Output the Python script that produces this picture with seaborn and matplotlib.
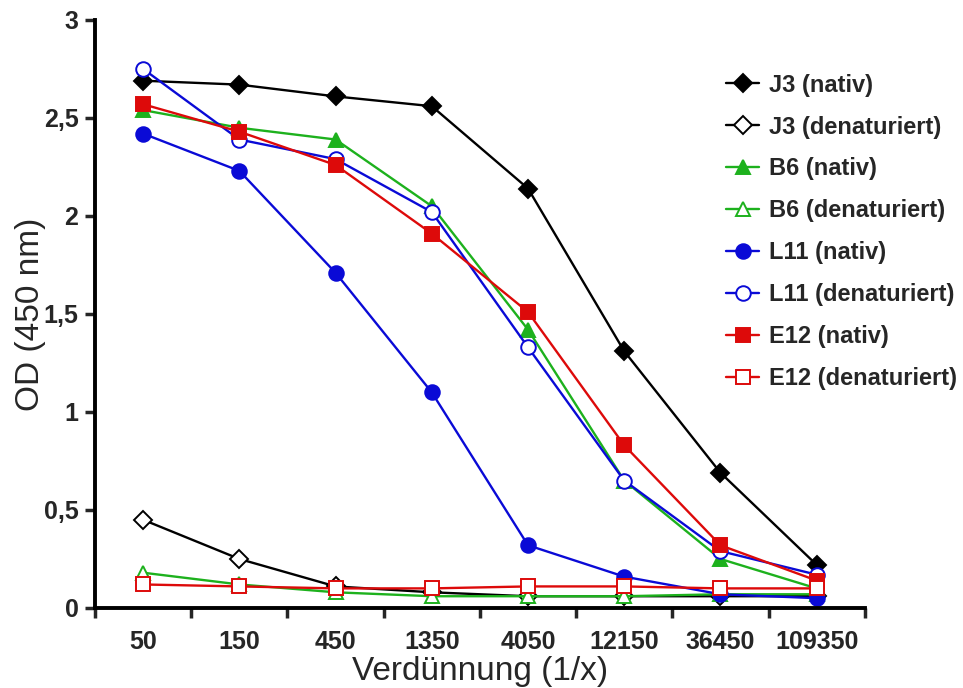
import matplotlib
matplotlib.use("Agg")
import matplotlib.pyplot as plt
import seaborn as sns
import pandas as pd

dilutions = ["50", "150", "450", "1350", "4050", "12150", "36450", "109350"]

j3_nativ = [2.69, 2.67, 2.61, 2.56, 2.14, 1.31, 0.69, 0.22]
j3_denat = [0.45, 0.25, 0.11, 0.08, 0.06, 0.06, 0.06, 0.06]
b6_nativ = [2.54, 2.45, 2.39, 2.05, 1.42, 0.65, 0.25, 0.10]
b6_denat = [0.18, 0.12, 0.08, 0.06, 0.06, 0.06, 0.07, 0.07]
l11_nativ = [2.42, 2.23, 1.71, 1.10, 0.32, 0.16, 0.07, 0.05]
l11_denat = [2.75, 2.39, 2.29, 2.02, 1.33, 0.65, 0.29, 0.17]
e12_nativ = [2.57, 2.43, 2.26, 1.91, 1.51, 0.83, 0.32, 0.14]
e12_denat = [0.12, 0.11, 0.10, 0.10, 0.11, 0.11, 0.10, 0.10]

series = [
    ("J3 (nativ)", j3_nativ, "black", "D", True),
    ("J3 (denaturiert)", j3_denat, "black", "D", False),
    ("B6 (nativ)", b6_nativ, "#1db11d", "^", True),
    ("B6 (denaturiert)", b6_denat, "#1db11d", "^", False),
    ("L11 (nativ)", l11_nativ, "#0a0ad6", "o", True),
    ("L11 (denaturiert)", l11_denat, "#0a0ad6", "o", False),
    ("E12 (nativ)", e12_nativ, "#dd0a0a", "s", True),
    ("E12 (denaturiert)", e12_denat, "#dd0a0a", "s", False),
]

sns.set_style("white")
plt.rcParams['font.family'] = ['Liberation Sans', 'DejaVu Sans']

fig = plt.figure(figsize=(9.63, 6.88), dpi=100)
ax = fig.add_axes([0.0987, 0.1163, 0.7993, 0.8547])

pos = list(range(len(dilutions)))
sizes = {"D": 9.5, "^": 10.5, "o": 10.5, "s": 10}
for name, vals, col, mk, filled in series:
    df = pd.DataFrame({"x": pos, "y": vals})
    sns.lineplot(data=df, x="x", y="y", ax=ax, color=col, lw=1.7,
                 marker=mk, markersize=sizes[mk],
                 markerfacecolor=col if filled else "white",
                 markeredgecolor=col, markeredgewidth=1.4,
                 label=name, legend=False)

ax.set_xlim(-0.5, 7.5)
ax.set_ylim(0, 3)
ax.set_xticks([p - 0.5 for p in pos] + [7.5])
ax.set_xticklabels([])
ax.set_xticks(pos, minor=True)
ax.set_xticklabels(dilutions, minor=True, fontsize=18, fontweight="bold")
ax.tick_params(axis="x", which="minor", bottom=True, length=0, pad=16)
ax.tick_params(axis="x", which="major", bottom=True, length=7, width=2.5, direction="out")
yt = [0, 0.5, 1, 1.5, 2, 2.5, 3]
ax.set_yticks(yt)
ax.set_yticklabels([f"{v:g}".replace(".", ",") for v in yt], fontsize=18, fontweight="bold")
ax.tick_params(axis="y", left=True, length=7, width=2.5, direction="out", pad=5)

for s in ["top", "right"]:
    ax.spines[s].set_visible(False)
for s in ["left", "bottom"]:
    ax.spines[s].set_linewidth(2.8)
    ax.spines[s].set_color("black")

ax.set_xlabel("Verdünnung (1/x)", fontsize=24)
ax.set_ylabel("OD (450 nm)", fontsize=24)
ax.xaxis.set_label_coords(0.5, -0.082)
ax.yaxis.set_label_coords(-0.064, 0.5)

handles, labels = ax.get_legend_handles_labels()
leg = fig.legend(handles, labels, loc="upper left", bbox_to_anchor=(0.754, 0.893),
                 frameon=False, handlelength=1.4, labelspacing=0.8, borderpad=0,
                 borderaxespad=0, handletextpad=0.4, prop={"size": 17, "weight": "bold"})

fig.savefig("out.png", dpi=100)
